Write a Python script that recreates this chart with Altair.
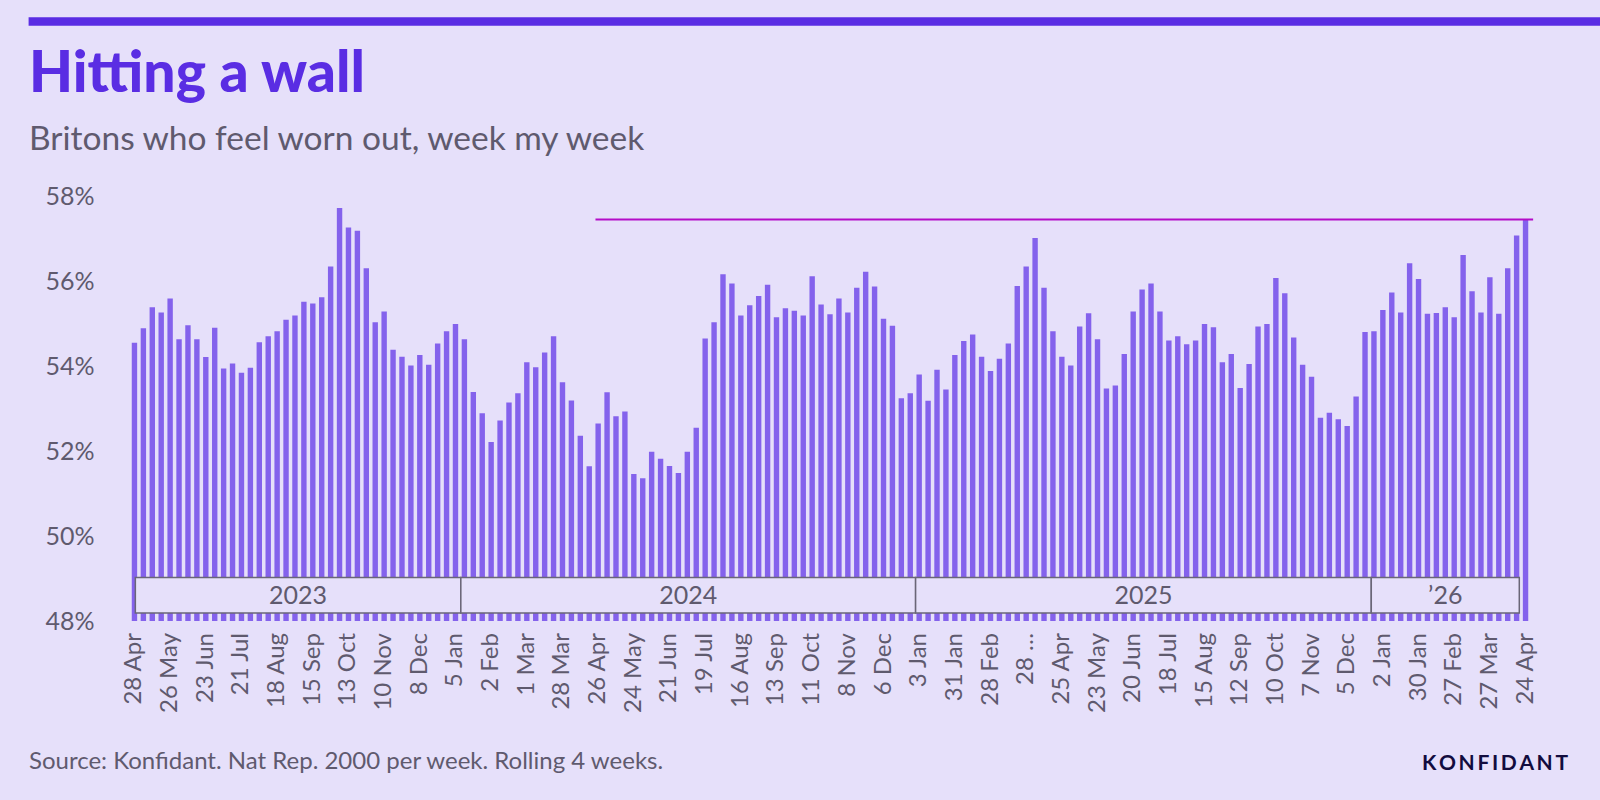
import altair as alt
import pandas as pd

# Share of Britons who feel worn out (%), weekly, rolling 4 weeks, 28 Apr 2023 - 24 Apr 2026
WORN_OUT = [
    54.55, 54.89, 55.38, 55.26, 55.59, 54.63, 54.96, 54.63, 54.21, 54.90,
    53.94, 54.06, 53.84, 53.96, 54.56, 54.70, 54.82, 55.09, 55.19, 55.51,
    55.47, 55.62, 56.34, 57.72, 57.26, 57.18, 56.30, 55.03, 55.28, 54.38,
    54.22, 54.01, 54.26, 54.03, 54.53, 54.82, 54.99, 54.63, 53.39, 52.89,
    52.21, 52.72, 53.14, 53.36, 54.09, 53.97, 54.32, 54.70, 53.62, 53.19,
    52.36, 51.64, 52.65, 53.38, 52.82, 52.93, 51.46, 51.36, 51.98, 51.82,
    51.65, 51.48, 51.98, 52.55, 54.65, 55.03, 56.16, 55.94, 55.19, 55.43,
    55.65, 55.91, 55.15, 55.36, 55.30, 55.19, 56.11, 55.45, 55.22, 55.59,
    55.26, 55.84, 56.22, 55.87, 55.11, 54.95, 53.24, 53.36, 53.80, 53.18,
    53.91, 53.45, 54.26, 54.59, 54.74, 54.22, 53.88, 54.17, 54.53, 55.88,
    56.34, 57.01, 55.84, 54.82, 54.22, 54.01, 54.93, 55.24, 54.63, 53.47,
    53.54, 54.28, 55.28, 55.80, 55.94, 55.28, 54.60, 54.70, 54.51, 54.60,
    54.99, 54.91, 54.09, 54.28, 53.48, 54.05, 54.93, 54.99, 56.07, 55.71,
    54.67, 54.03, 53.75, 52.78, 52.90, 52.75, 52.59, 53.28, 54.80, 54.82,
    55.32, 55.73, 55.26, 56.42, 56.05, 55.23, 55.25, 55.38, 55.15, 56.61,
    55.76, 55.26, 56.09, 55.23, 56.30, 57.07, 57.45,
]

# One date label for every fourth week
TICK_LABELS = [
    "28 Apr", "26 May", "23 Jun", "21 Jul", "18 Aug", "15 Sep", "13 Oct", "10 Nov", "8 Dec",
    "5 Jan", "2 Feb", "1 Mar", "28 Mar", "26 Apr", "24 May", "21 Jun", "19 Jul", "16 Aug",
    "13 Sep", "11 Oct", "8 Nov", "6 Dec",
    "3 Jan", "31 Jan", "28 Feb", "28 \u2026", "25 Apr", "23 May", "20 Jun", "18 Jul", "15 Aug",
    "12 Sep", "10 Oct", "7 Nov", "5 Dec",
    "2 Jan", "30 Jan", "27 Feb", "27 Mar", "24 Apr",
]
TICK_EVERY = 4

# Calendar-year strip under the bars (edges in week units)
YEAR_LABELS = ["2023", "2024", "2025", "\u201926"]
YEAR_EDGES = [0.1, 36.6, 87.6, 138.7, 155.3]

# Weeks covered by the "two years" reference line
LOOKBACK_WEEKS = 104

# Styling
BG = "#E6E0FA"
PURPLE = "#5A2DE3"
BAR = "#8462EC"
MAGENTA = "#B40CC8"
GREY = "#5F5A6E"
FRAME = "#6A6677"
NAVY = "#120C3E"
FONT = "Lato"

W, H = 1410, 425
PAD = {"left": 125, "top": 196, "right": 1600 - 125 - W, "bottom": 800 - 196 - H}

n = len(WORN_OUT)
bars_df = pd.DataFrame({"week": list(range(n)), "pct": WORN_OUT})
ticks_df = pd.DataFrame({
    "week": list(range(0, n, TICK_EVERY)),
    "label": TICK_LABELS,
})

x_scale = alt.Scale(domain=[-0.5, n - 0.5], nice=False, zero=False)
y_scale = alt.Scale(domain=[48, 58], nice=False, zero=False)

bars = alt.Chart(bars_df).mark_bar(size=5.4, color=BAR).encode(
    x=alt.X("week:Q", scale=x_scale, axis=None),
    y=alt.Y(
        "pct:Q",
        scale=y_scale,
        axis=alt.Axis(
            values=[48, 50, 52, 54, 56, 58],
            labelExpr="datum.value + '%'",
            labelFontSize=25,
            labelFont=FONT,
            labelColor=GREY,
            labelPadding=31,
            ticks=False,
            domain=False,
            grid=False,
            title=None,
        ),
    ),
    y2=alt.datum(48),
)

# Date labels under the bars, reading upwards
date_labels = alt.Chart(ticks_df).mark_text(
    angle=270, align="right", baseline="middle", font=FONT, fontSize=24, color=GREY
).encode(
    x=alt.X("week:Q", scale=x_scale),
    y=alt.value(H + 12),
    text="label:N",
)

# Reference line at the latest reading, spanning the last two years
last = n - 1
ref_df = pd.DataFrame({
    "start": [last - LOOKBACK_WEEKS - 0.3],
    "end": [last + 0.85],
    "pct": [WORN_OUT[-1]],
})
ref_line = alt.Chart(ref_df).mark_rule(color=MAGENTA, strokeWidth=2).encode(
    x=alt.X("start:Q", scale=x_scale),
    x2="end:Q",
    y=alt.Y("pct:Q", scale=y_scale),
)

# Year strip
years_df = pd.DataFrame({
    "year": YEAR_LABELS,
    "x0": YEAR_EDGES[:-1],
    "x1": YEAR_EDGES[1:],
})
years_df["mid"] = (years_df["x0"] + years_df["x1"]) / 2
year_boxes = alt.Chart(years_df).mark_rect(
    fill=BG, stroke=FRAME, strokeWidth=1.5
).encode(
    x=alt.X("x0:Q", scale=x_scale),
    x2="x1:Q",
    y=alt.value(381.5),
    y2=alt.value(417),
)
year_text = alt.Chart(years_df).mark_text(
    font=FONT, fontSize=25, color=GREY, baseline="middle", align="center"
).encode(
    x=alt.X("mid:Q", scale=x_scale),
    y=alt.value(400),
    text="year:N",
)


def label(text, x, y, **kw):
    return alt.Chart(pd.DataFrame({"t": [text]})).mark_text(**kw).encode(
        x=alt.value(x), y=alt.value(y), text="t:N"
    )


top_bar = alt.Chart(pd.DataFrame({"k": [0]})).mark_rule(
    color=PURPLE, strokeWidth=8.5
).encode(x=alt.value(-96.4), x2=alt.value(1600 - PAD["left"]), y=alt.value(-174.5))

title = label("Hitting a wall", -96, -104, font=FONT, fontSize=57, fontWeight=900,
              color=PURPLE, align="left", baseline="alphabetic")
subtitle = label("Britons who feel worn out, week my week", -96, -46, font=FONT,
                 fontSize=33.5, color=GREY, align="left", baseline="alphabetic")
source = label("Source: Konfidant. Nat Rep. 2000 per week. Rolling 4 weeks.", -96, 573,
               font=FONT, fontSize=24, color=GREY, align="left", baseline="alphabetic")
brand = label("K\u2009O\u2009N\u2009F\u2009I\u2009D\u2009A\u2009N\u2009T", 1443, 574, font=FONT,
              fontSize=21, fontWeight="bold", color=NAVY, align="right", baseline="alphabetic")

chart = alt.layer(
    bars, ref_line, year_boxes, year_text, date_labels,
    top_bar, title, subtitle, source, brand
).properties(
    width=W,
    height=H,
    autosize=alt.AutoSizeParams(type="none"),
    padding=PAD,
    background=BG,
).configure_view(stroke=None)

chart.save("out.html", embed_options={"renderer": "svg", "actions": False})
